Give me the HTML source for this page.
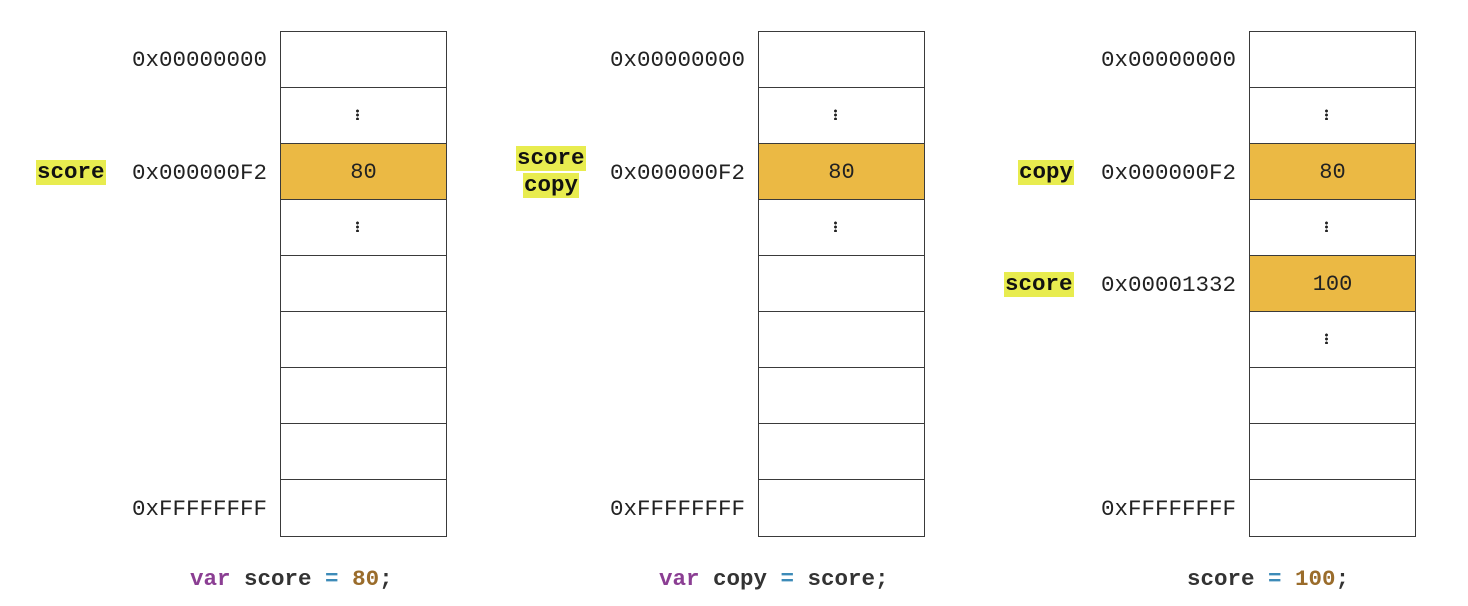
<!DOCTYPE html>
<html><head><meta charset="utf-8"><style>
body{margin:0;width:1468px;height:606px;background:#fff;position:relative;overflow:hidden;font-family:"Liberation Mono",monospace;}
.c{position:absolute;box-sizing:border-box;border:1.5px solid #3a3a3a;background:#fff;width:167px;height:57.5px;text-align:center;line-height:57px;font-size:22px;color:#222;}
.o{background:#ebb944;}
.t{position:absolute;font-size:22.5px;color:#222;line-height:28px;white-space:pre;}
.a{text-align:right;width:140px;}
.n{position:absolute;font-size:22.5px;font-weight:bold;color:#111;line-height:25px;background:#e8ec4f;padding:0 1px;}
.d{position:absolute;width:3px;height:11px;background:radial-gradient(circle,#222 1.3px,transparent 1.6px) 0 0/3px 4px repeat-y;}
.code{position:absolute;top:565px;font-size:22.5px;font-weight:bold;color:#333;line-height:28px;white-space:pre;}
.v{color:#8b3e93}.e{color:#3d8bb8}.num{color:#9a6c2b}
</style></head><body>

<div class="c" style="left:280px;top:31px"></div>
<div class="c" style="left:280px;top:87px"></div>
<div class="c o" style="left:280px;top:143px">80</div>
<div class="c" style="left:280px;top:199px"></div>
<div class="c" style="left:280px;top:255px"></div>
<div class="c" style="left:280px;top:311px"></div>
<div class="c" style="left:280px;top:367px"></div>
<div class="c" style="left:280px;top:423px"></div>
<div class="c" style="left:280px;top:479px"></div>
<div class="d" style="left:356px;top:109px"></div>
<div class="d" style="left:356px;top:221px"></div>
<div class="t a" style="left:127px;top:46px">0x00000000</div>
<div class="t a" style="left:127px;top:159px">0x000000F2</div>
<div class="t a" style="left:127px;top:495px">0xFFFFFFFF</div>
<div class="n" style="left:36px;top:160px">score</div>
<div class="code" style="left:190px"><span class="v">var</span> score <span class="e">=</span> <span class="num">80</span>;</div>

<div class="c" style="left:758px;top:31px"></div>
<div class="c" style="left:758px;top:87px"></div>
<div class="c o" style="left:758px;top:143px">80</div>
<div class="c" style="left:758px;top:199px"></div>
<div class="c" style="left:758px;top:255px"></div>
<div class="c" style="left:758px;top:311px"></div>
<div class="c" style="left:758px;top:367px"></div>
<div class="c" style="left:758px;top:423px"></div>
<div class="c" style="left:758px;top:479px"></div>
<div class="d" style="left:834px;top:109px"></div>
<div class="d" style="left:834px;top:221px"></div>
<div class="t a" style="left:605px;top:46px">0x00000000</div>
<div class="t a" style="left:605px;top:159px">0x000000F2</div>
<div class="t a" style="left:605px;top:495px">0xFFFFFFFF</div>
<div class="n" style="left:516px;top:146px">score</div>
<div class="n" style="left:523px;top:173px">copy</div>
<div class="code" style="left:659px"><span class="v">var</span> copy <span class="e">=</span> score;</div>

<div class="c" style="left:1249px;top:31px"></div>
<div class="c" style="left:1249px;top:87px"></div>
<div class="c o" style="left:1249px;top:143px">80</div>
<div class="c" style="left:1249px;top:199px"></div>
<div class="c o" style="left:1249px;top:255px">100</div>
<div class="c" style="left:1249px;top:311px"></div>
<div class="c" style="left:1249px;top:367px"></div>
<div class="c" style="left:1249px;top:423px"></div>
<div class="c" style="left:1249px;top:479px"></div>
<div class="d" style="left:1325px;top:109px"></div>
<div class="d" style="left:1325px;top:221px"></div>
<div class="d" style="left:1325px;top:333px"></div>
<div class="t a" style="left:1096px;top:46px">0x00000000</div>
<div class="t a" style="left:1096px;top:159px">0x000000F2</div>
<div class="t a" style="left:1096px;top:271px">0x00001332</div>
<div class="t a" style="left:1096px;top:495px">0xFFFFFFFF</div>
<div class="n" style="left:1018px;top:160px">copy</div>
<div class="n" style="left:1004px;top:272px">score</div>
<div class="code" style="left:1187px">score <span class="e">=</span> <span class="num">100</span>;</div>

</body></html>
